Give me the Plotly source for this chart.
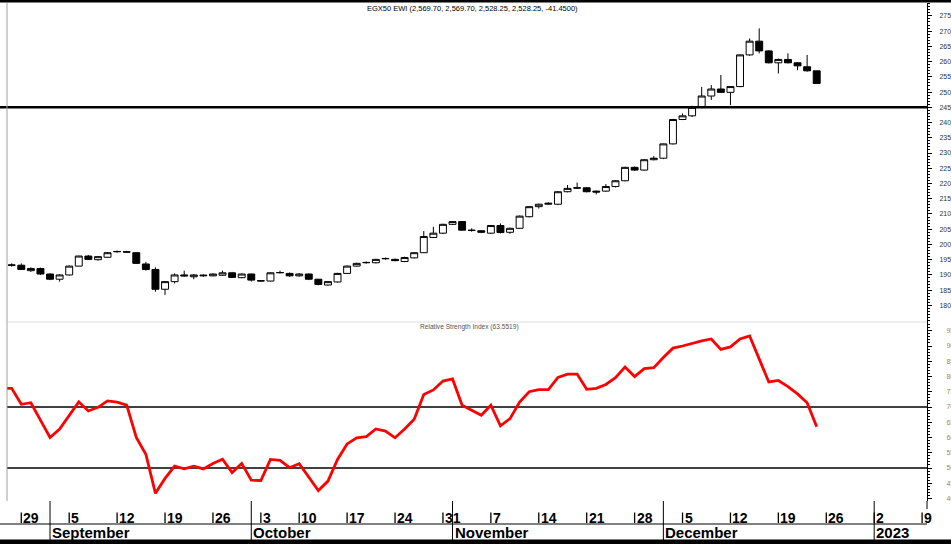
import plotly.graph_objects as go

# ---------------- data ----------------
idx = list(range(85))  # trading-day index (Aug 28 2022 .. Dec 25 2022)

opens = [1933, 1932, 1914, 1921, 1903, 1886, 1900, 1929, 1962, 1950,
         1958, 1976, 1976, 1973, 1936, 1918, 1853, 1878, 1900, 1894,
         1897, 1897, 1899, 1907, 1891, 1903, 1880, 1880, 1907, 1905,
         1897, 1903, 1886, 1867, 1877, 1905, 1929, 1940, 1940, 1953,
         1951, 1944, 1956, 1973, 2023, 2037, 2066, 2075, 2047, 2045,
         2037, 2062, 2040, 2053, 2091, 2124, 2132, 2132, 2173, 2186,
         2186, 2175, 2175, 2190, 2209, 2253, 2244, 2278, 2283, 2330,
         2410, 2422, 2450, 2487, 2510, 2499, 2518, 2622, 2667, 2635,
         2596, 2607, 2596, 2583, 2569.70]
highs = [1938, 1938, 1925, 1924, 1905, 1902, 1931, 1963, 1965, 1962,
         1975, 1980, 1979, 1975, 1943, 1925, 1880, 1905, 1914, 1903,
         1902, 1905, 1914, 1910, 1905, 1905, 1883, 1909, 1914, 1908,
         1906, 1905, 1887, 1880, 1907, 1931, 1940, 1944, 1953, 1957,
         1954, 1960, 1975, 2044, 2058, 2068, 2077, 2077, 2053, 2047,
         2064, 2069, 2055, 2095, 2126, 2134, 2138, 2175, 2195, 2203,
         2188, 2177, 2198, 2211, 2255, 2256, 2280, 2290, 2331, 2412,
         2430, 2455, 2517, 2523, 2556, 2520, 2624, 2676, 2709, 2637,
         2610, 2627, 2598, 2622, 2569.70]
lows = [1927, 1916, 1910, 1900, 1883, 1878, 1898, 1928, 1949, 1947,
        1956, 1973, 1973, 1936, 1914, 1845, 1834, 1872, 1894, 1886,
        1894, 1895, 1897, 1890, 1889, 1878, 1877, 1878, 1905, 1894,
        1894, 1883, 1866, 1865, 1875, 1903, 1927, 1937, 1938, 1950,
        1945, 1942, 1954, 1972, 2021, 2034, 2064, 2045, 2042, 2037,
        2034, 2036, 2035, 2051, 2089, 2118, 2130, 2129, 2171, 2182,
        2171, 2164, 2173, 2187, 2207, 2242, 2242, 2276, 2280, 2328,
        2408, 2418, 2447, 2474, 2497, 2457, 2516, 2619, 2627, 2594,
        2561, 2594, 2572, 2567, 2528.25]
closes = [1932, 1918, 1921, 1903, 1886, 1900, 1929, 1962, 1951, 1960,
          1973, 1977, 1975, 1938, 1918, 1853, 1878, 1900, 1897, 1900,
          1899, 1903, 1907, 1892, 1903, 1883, 1881, 1907, 1908, 1897,
          1903, 1886, 1869, 1878, 1905, 1929, 1938, 1941, 1951, 1954,
          1947, 1957, 1973, 2026, 2037, 2066, 2075, 2047, 2046, 2040,
          2062, 2039, 2053, 2093, 2124, 2132, 2135, 2173, 2184, 2185,
          2173, 2172, 2190, 2209, 2253, 2244, 2278, 2283, 2330, 2410,
          2422, 2450, 2487, 2510, 2499, 2518, 2622, 2667, 2635, 2596,
          2607, 2596, 2586, 2569.70, 2528.25]

rsi_prev = 76.1  # value of the session before the first visible one
rsi = [76.1, 70.9, 71.4, 65.7, 60.0, 62.8, 67.4, 71.7, 68.7, 69.9,
       72.0, 71.6, 70.6, 60.0, 54.5, 41.7, 46.6, 50.6, 49.7, 50.6,
       49.7, 51.5, 52.9, 48.5, 51.5, 46.0, 45.9, 52.8, 52.5, 50.1,
       51.4, 47.1, 42.6, 45.7, 52.8, 57.9, 59.9, 60.3, 62.8, 62.1,
       59.9, 62.8, 66.0, 74.1, 75.6, 78.5, 79.2, 70.6, 68.9, 67.3,
       70.6, 63.8, 66.2, 71.6, 75.0, 75.7, 75.7, 79.7, 80.8, 80.8,
       75.8, 76.1, 77.4, 79.6, 83.1, 80.0, 82.6, 82.9, 86.2, 89.3,
       90.0, 90.9, 91.7, 92.3, 88.9, 89.7, 92.3, 93.3, 85.9, 78.2,
       78.7, 76.7, 74.3, 71.4, 63.5519]

price_ticks = list(range(1800, 2751, 50))
price_tick_text = [str(v // 10) for v in price_ticks]
rsi_ticks = list(range(40, 96, 5))
rsi_tick_text = [str(v) for v in rsi_ticks]

week_labels = ["29", "5", "12", "19", "26", "3", "10", "17", "24", "31",
               "7", "14", "21", "28", "5", "12", "19", "26", "2", "9"]
week_pos = [1, 6, 11, 16, 21, 26, 30, 35, 40, 45,
            50, 55, 60, 65, 70, 75, 80, 85, 90, 95]
month_labels = ["September", "October", "November", "December", "2023"]
month_pos = [4, 25, 46, 68, 90]

support_level = 2450
rsi_levels = [70, 50]
change = closes[-1] - closes[-2]

# ---------------- geometry ----------------
W, H = 951, 544
L, R, T, B = 7, 927, 3, 501
SPLIT = 322


def py(Y):
    return (B - Y) / (B - T)


def px(X):
    return (X - L) / (R - L)


FONT = "Liberation Sans, Arial, sans-serif"

fig = go.Figure()
fig.add_trace(go.Candlestick(
    x=idx, open=opens, high=highs, low=lows, close=closes,
    increasing=dict(line=dict(color="black", width=1), fillcolor="white"),
    decreasing=dict(line=dict(color="black", width=1), fillcolor="black"),
    whiskerwidth=0, xaxis="x", yaxis="y", showlegend=False, hoverinfo="skip",
))
fig.add_trace(go.Scatter(
    x=[idx[0] - 1] + idx, y=[rsi_prev] + rsi, mode="lines",
    line=dict(color="#ff0000", width=2.8), xaxis="x", yaxis="y2",
    showlegend=False, hoverinfo="skip",
))

shapes = []
# support line on price panel
shapes.append(dict(type="line", xref="paper", yref="y", x0=px(0), x1=1,
                   y0=support_level, y1=support_level,
                   line=dict(color="black", width=2.5), layer="above"))
for lv in rsi_levels:
    shapes.append(dict(type="line", xref="paper", yref="y2", x0=0, x1=1,
                       y0=lv, y1=lv, line=dict(color="black", width=1.3),
                       layer="below"))
# panel separator
shapes.append(dict(type="line", xref="paper", yref="paper", x0=0, x1=1,
                   y0=py(SPLIT), y1=py(SPLIT),
                   line=dict(color="#dddddd", width=1)))
# left border
shapes.append(dict(type="line", xref="paper", yref="paper", x0=0, x1=0,
                   y0=py(B), y1=py(T), line=dict(color="#a0a0a0", width=1)))
# right axis extension into the date strip
shapes.append(dict(type="line", xref="paper", yref="paper", x0=1, x1=1,
                   y0=py(509), y1=py(B), line=dict(color="black", width=1)))
# top & bottom black bands
shapes.append(dict(type="rect", xref="paper", yref="paper", x0=px(0), x1=px(W),
                   y0=py(2.5), y1=py(0), fillcolor="black", line_width=0))
shapes.append(dict(type="rect", xref="paper", yref="paper", x0=px(0), x1=px(W),
                   y0=py(H), y1=py(539.5), fillcolor="black", line_width=0))
# date axis frame
shapes.append(dict(type="line", xref="paper", yref="paper", x0=px(0), x1=1,
                   y0=py(524), y1=py(524), line=dict(color="black", width=1)))
for p in week_pos:
    shapes.append(dict(type="line", xref="x", yref="paper", x0=p, x1=p,
                       y0=py(523), y1=py(512.5),
                       line=dict(color="black", width=1.3)))
for p in month_pos:
    shapes.append(dict(type="line", xref="x", yref="paper", x0=p, x1=p,
                       y0=py(540), y1=py(501),
                       line=dict(color="black", width=1)))

annotations = []
for p, lab in zip(week_pos, week_labels):
    annotations.append(dict(x=p, xref="x", y=py(517.5), yref="paper", text=lab,
                            xanchor="left", yanchor="middle", showarrow=False,
                            xshift=0,
                            font=dict(family=FONT, size=14, color="black",
                                      weight="bold")))
for p, lab in zip(month_pos, month_labels):
    annotations.append(dict(x=p, xref="x", y=py(532), yref="paper", text=lab,
                            xanchor="left", yanchor="middle", showarrow=False,
                            xshift=0,
                            font=dict(family=FONT, size=15, color="black",
                                      weight="bold")))
title = "EGX50 EWI ({:,.2f}, {:,.2f}, {:,.2f}, {:,.2f}, {:.4f})".format(
    opens[-1], highs[-1], lows[-1], closes[-1], change)
annotations.append(dict(x=px(472), xref="paper", y=py(8), yref="paper",
                        text=title, xanchor="center", yanchor="middle",
                        showarrow=False,
                        font=dict(family=FONT, size=7.5, color="black")))
annotations.append(dict(x=px(418), xref="paper", y=py(326.5), yref="paper",
                        text="Relative Strength Index ({:.4f})".format(rsi[-1]),
                        xanchor="left", yanchor="middle", showarrow=False,
                        font=dict(family=FONT, size=6.6, color="#555555")))

fig.update_layout(
    width=W, height=H,
    margin=dict(l=L, r=W - R, t=T, b=H - B, pad=0, autoexpand=False),
    paper_bgcolor="white", plot_bgcolor="white",
    showlegend=False, hovermode=False,
    boxgap=0.15, boxgroupgap=0.15,
    xaxis=dict(range=[-0.49, 95.51], showgrid=False, zeroline=False,
               showticklabels=False, ticks="", showline=False,
               automargin=False,
               rangeslider=dict(visible=False), anchor="y2", fixedrange=True),
    yaxis=dict(domain=[py(SPLIT), 1], range=[1745.6, 2792.2], side="right",
               anchor="x", showgrid=False, zeroline=False, showline=True,
               linecolor="black", linewidth=1, ticks="outside", ticklen=4,
               tickcolor="black", tickwidth=1, tickmode="array",
               tickvals=price_ticks, ticktext=price_tick_text,
               ticklabelstandoff=6, fixedrange=True, automargin=False,
               tickfont=dict(family=FONT, size=7, color="#333333"),
               minor=dict(ticks="outside", ticklen=2, dtick=10, tick0=0,
                          tickcolor="black", tickwidth=1, showgrid=False)),
    yaxis2=dict(domain=[0, py(SPLIT)], range=[39.18, 97.87], side="right",
                anchor="x", showgrid=False, zeroline=False, showline=True,
                linecolor="black", linewidth=1, ticks="outside", ticklen=4,
                tickcolor="black", tickwidth=1, tickmode="array",
                tickvals=rsi_ticks, ticktext=rsi_tick_text,
                ticklabelstandoff=13, fixedrange=True, automargin=False,
                tickfont=dict(family=FONT, size=7, color="#888888"),
                minor=dict(ticks="outside", ticklen=2, dtick=1, tick0=0,
                           tickcolor="black", tickwidth=1, showgrid=False)),
    shapes=shapes, annotations=annotations,
)

fig.write_html("out.html", config={"displayModeBar": False},
               post_script="document.body.style.margin='0';"
                           "document.body.style.overflow='hidden';")
